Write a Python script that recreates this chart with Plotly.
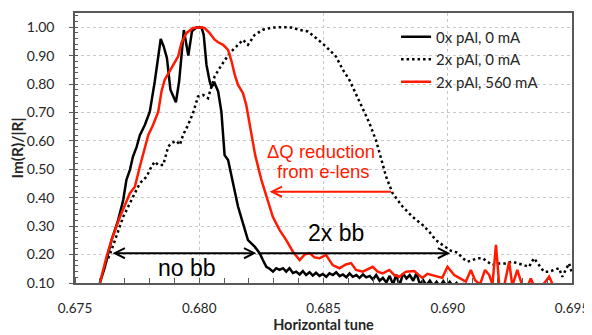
import plotly.graph_objects as go

# ---- data ----
black_x = [0.67600, 0.67620, 0.67647, 0.67674, 0.67694, 0.67707, 0.67721, 0.67733, 0.67748, 0.67761,
           0.67781, 0.67801, 0.67821, 0.67835, 0.67845, 0.67857, 0.67870, 0.67884, 0.67906, 0.67919,
           0.67938, 0.67956, 0.67971, 0.67989, 0.68009, 0.68018, 0.68029, 0.68042, 0.68049, 0.68062,
           0.68076, 0.68089, 0.68096, 0.68102, 0.68116, 0.68136, 0.68156, 0.68176, 0.68196, 0.68223,
           0.68243, 0.68256, 0.68270, 0.68283, 0.68297, 0.68310, 0.68323, 0.68337, 0.68350, 0.68363,
           0.68377, 0.68390, 0.68404, 0.68417, 0.68430, 0.68444, 0.68457, 0.68470, 0.68484, 0.68497,
           0.68511, 0.68524, 0.68538, 0.68551, 0.68565, 0.68578, 0.68592, 0.68605, 0.68618, 0.68632,
           0.68645, 0.68659, 0.68672, 0.68686, 0.68699, 0.68712, 0.68726, 0.68739, 0.68753, 0.68766,
           0.68780, 0.68793, 0.68806, 0.68820, 0.68834, 0.68847, 0.68861, 0.68874, 0.68888, 0.68901,
           0.68914, 0.68928, 0.68942, 0.68955, 0.68968, 0.68982, 0.68995, 0.69008, 0.69022, 0.69035,
           0.69049, 0.69062, 0.69080]
black_y = [0.100, 0.156, 0.251, 0.322, 0.392, 0.463, 0.498, 0.544, 0.579, 0.620,
           0.656, 0.703, 0.809, 0.903, 0.959, 0.932, 0.891, 0.780, 0.736, 0.809,
           0.990, 0.900, 0.987, 0.999, 1.000, 0.973, 0.868, 0.809, 0.790, 0.803,
           0.774, 0.703, 0.609, 0.550, 0.533, 0.451, 0.369, 0.310, 0.251, 0.228,
           0.205, 0.181, 0.157, 0.150, 0.140, 0.152, 0.146, 0.152, 0.140, 0.152,
           0.135, 0.140, 0.130, 0.142, 0.128, 0.138, 0.126, 0.136, 0.125, 0.132,
           0.122, 0.134, 0.128, 0.138, 0.124, 0.130, 0.120, 0.134, 0.122, 0.128,
           0.118, 0.130, 0.120, 0.125, 0.112, 0.128, 0.108, 0.118, 0.102, 0.125,
           0.095, 0.130, 0.090, 0.134, 0.116, 0.128, 0.108, 0.134, 0.095, 0.110,
           0.092, 0.108, 0.090, 0.104, 0.088, 0.106, 0.090, 0.104, 0.088, 0.100,
           0.085, 0.096, 0.080]

dotted_x = [0.67622, 0.67635, 0.67647, 0.67667, 0.67694, 0.67734, 0.67761, 0.67788, 0.67808, 0.67821,
            0.67835, 0.67855, 0.67875, 0.67888, 0.67908, 0.67922, 0.67935, 0.67955, 0.67975, 0.67995,
            0.68015, 0.68035, 0.68049, 0.68062, 0.68082, 0.68102, 0.68122, 0.68149, 0.68176, 0.68196,
            0.68223, 0.68256, 0.68296, 0.68337, 0.68370, 0.68404, 0.68437, 0.68470, 0.68510, 0.68550,
            0.68578, 0.68604, 0.68631, 0.68658, 0.68685, 0.68712, 0.68725, 0.68752, 0.68778, 0.68818,
            0.68858, 0.68899, 0.68926, 0.68952, 0.68979, 0.69012, 0.69039, 0.69060, 0.69080, 0.69100,
            0.69120, 0.69140, 0.69160, 0.69180, 0.69207, 0.69233, 0.69260, 0.69280, 0.69307, 0.69327,
            0.69347, 0.69367, 0.69387, 0.69408, 0.69428, 0.69448, 0.69461, 0.69474, 0.69488, 0.69494,
            0.69500]
dotted_y = [0.170, 0.190, 0.216, 0.263, 0.333, 0.404, 0.451, 0.474, 0.510, 0.527,
            0.515, 0.515, 0.580, 0.592, 0.600, 0.586, 0.621, 0.656, 0.698, 0.756,
            0.762, 0.750, 0.790, 0.827, 0.856, 0.885, 0.909, 0.932, 0.956, 0.938,
            0.973, 0.991, 0.999, 1.000, 0.999, 0.991, 0.985, 0.962, 0.932, 0.897,
            0.850, 0.815, 0.762, 0.709, 0.662, 0.600, 0.557, 0.474, 0.416, 0.369,
            0.333, 0.304, 0.280, 0.251, 0.234, 0.214, 0.207, 0.187, 0.175, 0.180,
            0.187, 0.187, 0.175, 0.163, 0.169, 0.169, 0.175, 0.169, 0.163, 0.157,
            0.187, 0.165, 0.140, 0.140, 0.146, 0.152, 0.122, 0.146, 0.169, 0.152,
            0.134]

red_x = [0.67600, 0.67627, 0.67647, 0.67681, 0.67721, 0.67741, 0.67761, 0.67781, 0.67795, 0.67814,
         0.67835, 0.67848, 0.67861, 0.67888, 0.67915, 0.67928, 0.67948, 0.67975, 0.68009, 0.68022,
         0.68042, 0.68062, 0.68076, 0.68096, 0.68116, 0.68130, 0.68143, 0.68156, 0.68176, 0.68189,
         0.68203, 0.68212, 0.68225, 0.68250, 0.68270, 0.68296, 0.68323, 0.68350, 0.68377, 0.68404,
         0.68424, 0.68444, 0.68464, 0.68484, 0.68510, 0.68537, 0.68564, 0.68590, 0.68611, 0.68631,
         0.68658, 0.68678, 0.68698, 0.68718, 0.68738, 0.68765, 0.68785, 0.68805, 0.68832, 0.68865,
         0.68898, 0.68918, 0.68938, 0.68958, 0.68978, 0.68999, 0.69026, 0.69046, 0.69073, 0.69093,
         0.69110, 0.69130, 0.69150, 0.69167, 0.69180, 0.69194, 0.69207, 0.69227, 0.69247, 0.69260,
         0.69280, 0.69300, 0.69320, 0.69334, 0.69350, 0.69380, 0.69408, 0.69425, 0.69450, 0.69480,
         0.69500]
red_y = [0.100, 0.193, 0.251, 0.333, 0.416, 0.439, 0.510, 0.580, 0.621, 0.656,
         0.703, 0.774, 0.815, 0.856, 0.897, 0.944, 0.979, 0.997, 1.000, 0.997,
         0.979, 0.956, 0.947, 0.938, 0.920, 0.880, 0.832, 0.797, 0.768, 0.727,
         0.656, 0.604, 0.550, 0.463, 0.404, 0.333, 0.287, 0.251, 0.210, 0.181,
         0.200, 0.205, 0.190, 0.187, 0.199, 0.163, 0.152, 0.165, 0.170, 0.146,
         0.140, 0.150, 0.157, 0.140, 0.134, 0.146, 0.128, 0.122, 0.140, 0.142,
         0.118, 0.132, 0.128, 0.122, 0.118, 0.157, 0.128, 0.118, 0.105, 0.146,
         0.110, 0.095, 0.146, 0.128, 0.095, 0.234, 0.095, 0.090, 0.175, 0.090,
         0.146, 0.090, 0.085, 0.116, 0.085, 0.090, 0.122, 0.090, 0.085, 0.092,
         0.090]

series_names = ["0x pAl, 0 mA", "2x pAl, 0 mA", "2x pAl, 560 mA"]
x_ticks = [0.675, 0.680, 0.685, 0.690, 0.695]

FONT = "Lato, 'Liberation Sans', sans-serif"
ARIAL = "'Liberation Sans', Arial, sans-serif"
RED = "#ff1a00"

fig = go.Figure()
fig.add_trace(go.Scatter(x=black_x, y=black_y, mode="lines", name=series_names[0],
                         line=dict(color="black", width=2.5)))
fig.add_trace(go.Scatter(x=dotted_x, y=dotted_y, mode="lines", name=series_names[1],
                         line=dict(color="black", width=2.5, dash="2.5px,3px")))
fig.add_trace(go.Scatter(x=red_x, y=red_y, mode="lines", name=series_names[2],
                         line=dict(color=RED, width=2.5)))

# arrows
fig.add_annotation(x=0.68230, y=0.205, ax=0.67645, ay=0.205, xref="x", yref="y",
                   axref="x", ayref="y", text="", showarrow=True, arrowside="end+start",
                   arrowhead=5, startarrowhead=5, arrowsize=1, startarrowsize=1, arrowwidth=2, arrowcolor="black")
fig.add_annotation(x=0.69010, y=0.205, ax=0.68230, ay=0.205, xref="x", yref="y",
                   axref="x", ayref="y", text="", showarrow=True, arrowhead=5, arrowsize=1,
                   arrowwidth=2, arrowcolor="black")
fig.add_annotation(x=0.68283, y=0.4215, ax=0.68778, ay=0.4215, xref="x", yref="y",
                   axref="x", ayref="y", text="", showarrow=True, arrowhead=5, arrowsize=1,
                   arrowwidth=2, arrowcolor=RED)

fig.add_annotation(x=0.67949, y=0.152, text="no bb", showarrow=False,
                   font=dict(family=ARIAL, size=23, color="black"))
fig.add_annotation(x=0.68551, y=0.275, text="2x bb", showarrow=False,
                   font=dict(family=ARIAL, size=23, color="black"))
fig.add_annotation(x=0.68488, y=0.562, text="ΔQ reduction", showarrow=False,
                   font=dict(family=ARIAL, size=18.5, color=RED))
fig.add_annotation(x=0.68498, y=0.492, text="from e-lens", showarrow=False,
                   font=dict(family=ARIAL, size=18.5, color=RED))

# The page body has an 8px margin, so the figure is 8px smaller and margins shifted.
fig.update_layout(
    width=584, height=327,
    margin=dict(l=67, r=20, t=5, b=52, autoexpand=False),
    plot_bgcolor="white", paper_bgcolor="white",
    font=dict(family=FONT, size=14, color="#262626"),
    showlegend=True,
    legend=dict(x=0.646, y=0.972, xanchor="left", yanchor="top",
                bgcolor="rgba(0,0,0,0)", font=dict(size=15, color="#262626"),
                tracegroupgap=0, itemwidth=30),
    xaxis=dict(range=[0.675, 0.695], tickvals=x_ticks, tickformat=".3f",
               tickfont=dict(size=13.5),
               showgrid=True, gridcolor="#c8c8c8", griddash="dot", gridwidth=1,
               showline=True, linecolor="#595959", linewidth=1.5, mirror=True,
               ticks="", ticklabelstandoff=12, zeroline=False, automargin=False,
               minor=dict(dtick=0.001, tick0=0.675, ticks="inside", ticklen=5,
                          tickcolor="#595959", showgrid=False),
               title=dict(text="<b>Horizontal tune</b>", font=dict(size=14.5, color="#262626"), standoff=4)),
    yaxis=dict(range=[0.10, 1.05], tick0=0.1, dtick=0.1, tickformat=".2f",
               showgrid=True, gridcolor="#c8c8c8", griddash="dot", gridwidth=1,
               showline=True, linecolor="#595959", linewidth=1.5, mirror=True,
               ticks="outside", ticklen=4, tickcolor="#595959", ticklabelstandoff=12,
               zeroline=False, automargin=False,
               minor=dict(dtick=0.02, tick0=0.1, ticks="inside", ticklen=3,
                          tickcolor="#595959", showgrid=False),
               title=dict(text="<b>Im(R)/|R|</b>", font=dict(size=15.5, color="#262626"), standoff=5)),
)

fig.write_html("out.html")
